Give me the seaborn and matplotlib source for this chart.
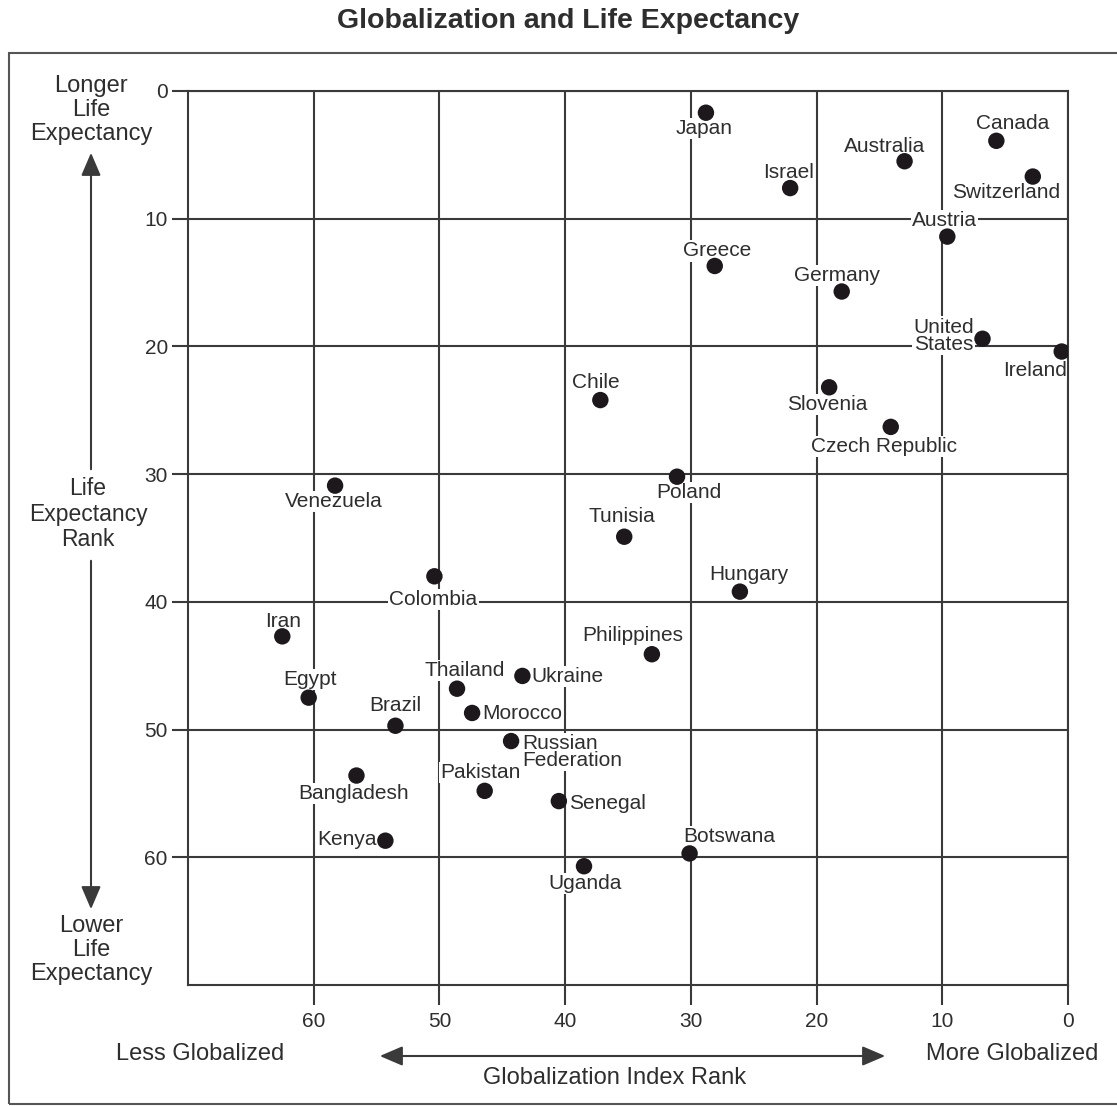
import matplotlib
matplotlib.use('Agg')
import matplotlib.pyplot as plt
import seaborn as sns
import pandas as pd
from matplotlib.patches import Rectangle, FancyArrowPatch

# data (ranks)
countries = ['Japan', 'Canada', 'Australia', 'Switzerland', 'Israel', 'Austria',
             'Greece', 'Germany', 'United\nStates', 'Ireland', 'Chile', 'Slovenia',
             'Czech Republic', 'Poland', 'Venezuela', 'Tunisia', 'Colombia', 'Hungary',
             'Iran', 'Philippines', 'Ukraine', 'Thailand', 'Egypt', 'Morocco', 'Brazil',
             'Russian\nFederation', 'Bangladesh', 'Pakistan', 'Senegal', 'Kenya',
             'Botswana', 'Uganda']
glob_rank = [28.8, 5.7, 13.0, 2.8, 22.1, 9.6, 28.1, 18.0, 6.8, 0.5, 37.2, 19.0,
             14.1, 31.1, 58.3, 35.3, 50.4, 26.1, 62.5, 33.1, 43.4, 48.6, 60.4, 47.4,
             53.5, 44.3, 56.6, 46.4, 40.5, 54.3, 30.1, 38.5]
life_rank = [1.7, 3.9, 5.5, 6.7, 7.6, 11.4, 13.7, 15.7, 19.4, 20.4, 24.2, 23.2,
             26.3, 30.2, 30.9, 34.9, 38.0, 39.2, 42.7, 44.1, 45.8, 46.8, 47.5, 48.7,
             49.7, 50.9, 53.6, 54.8, 55.6, 58.7, 59.7, 60.7]
ticks = [0, 10, 20, 30, 40, 50, 60]

# label placement: offset in pixels (dx, dy down) and horizontal alignment
label_pos = {
    'Japan': (-2, 16, 'center'), 'Canada': (16, -17, 'center'),
    'Australia': (-20, -15, 'center'), 'Switzerland': (-27, 16, 'center'),
    'Israel': (-2, -16, 'center'), 'Austria': (-3, -16, 'center'),
    'Greece': (2, -15, 'center'), 'Germany': (-5, -16, 'center'),
    'United\nStates': (-39, -3, 'center'), 'Ireland': (-27, 19, 'center'),
    'Chile': (-5, -18, 'center'), 'Slovenia': (-2, 17, 'center'),
    'Czech Republic': (-7, 20, 'center'), 'Poland': (12, 16, 'center'),
    'Venezuela': (-1, 16, 'center'), 'Tunisia': (-2, -20, 'center'),
    'Colombia': (-1, 23, 'center'), 'Hungary': (9, -17, 'center'),
    'Iran': (1, -15, 'center'), 'Philippines': (-19, -19, 'center'),
    'Ukraine': (9, 1, 'left'), 'Thailand': (8, -18, 'center'),
    'Egypt': (1, -18, 'center'), 'Morocco': (10, 1, 'left'),
    'Brazil': (0, -20, 'center'), 'Russian\nFederation': (11, 11, 'left'),
    'Bangladesh': (-3, 18, 'center'), 'Pakistan': (-4, -18, 'center'),
    'Senegal': (10, 2, 'left'), 'Kenya': (-9, -1, 'right'),
    'Botswana': (40, -17, 'center'), 'Uganda': (1, 17, 'center'),
}

df = pd.DataFrame({'country': countries, 'glob': glob_rank, 'life': life_rank})

sns.set_theme(style='white')
plt.rcParams['font.family'] = ['Liberation Sans', 'DejaVu Sans']

W, H = 1117, 1106
line_c = '#3a3a3a'
text_c = '#2e2e2e'

def fxy(px, py):
    return px / W, 1 - py / H

fig = plt.figure(figsize=(W / 100, H / 100), dpi=100)
ax = fig.add_axes([188 / W, 1 - 985 / H, 880 / W, 894 / H])

sns.scatterplot(data=df, x='glob', y='life', s=140, color='#1c181c',
                edgecolor='none', ax=ax, zorder=5)

ax.set_xlim(70, 0)
ax.set_ylim(70, 0)
ax.set_xticks(ticks)
ax.set_yticks(ticks)
ax.set_xlabel('')
ax.set_ylabel('')
ax.grid(True, color=line_c, lw=1.5)
ax.set_axisbelow(True)
for sp in ax.spines.values():
    sp.set_color(line_c)
    sp.set_linewidth(1.5)
    sp.set_zorder(4)
ax.tick_params(axis='x', direction='out', length=14.5, width=1.5, color=line_c,
               pad=5, labelsize=15, labelcolor=text_c, bottom=True)
ax.tick_params(axis='y', direction='out', length=11.5, width=1.5, color=line_c,
               pad=3, labelsize=15, labelcolor=text_c, left=True)

for c, x, y in zip(countries, glob_rank, life_rank):
    dx, dy, ha = label_pos[c]
    ax.annotate(c, (x, y), xytext=(dx * 0.72, -dy * 0.72), textcoords='offset points',
                ha=ha, va='center', fontsize=15, color=text_c, linespacing=0.9,
                multialignment='left' if ha == 'left' else 'center',
                bbox=dict(boxstyle='square,pad=0.05', fc='white', ec='none'))

# title
fig.text(*fxy(568, 21), 'Globalization and Life Expectancy', ha='center', va='center',
         fontsize=20.5, fontweight='bold', color=text_c)

# outer frame
fig.patches.append(Rectangle(fxy(9, 1104), 1.2, (1104 - 53) / H, transform=fig.transFigure,
                             fill=False, ec='#555555', lw=1.5))

# vertical annotation: two arrows pointing away from the middle text
arr = dict(arrowstyle='-|>,head_length=0.7,head_width=0.3', mutation_scale=20,
           color=line_c, lw=1.5, transform=fig.transFigure)
fig.patches.append(FancyArrowPatch(fxy(91, 472), fxy(91, 150), **arr))
fig.patches.append(FancyArrowPatch(fxy(91, 558), fxy(91, 912), **arr))
fig.text(*fxy(91, 110), 'Longer\nLife\nExpectancy', ha='center', va='center',
         fontsize=17, color=text_c, linespacing=1.1)
fig.text(*fxy(88, 514), 'Life\nExpectancy\nRank', ha='center', va='center',
         fontsize=16.5, color=text_c, linespacing=1.12)
fig.text(*fxy(91, 950), 'Lower\nLife\nExpectancy', ha='center', va='center',
         fontsize=17, color=text_c, linespacing=1.1)

# horizontal annotation
arr2 = dict(arr, arrowstyle='<|-|>,head_length=0.7,head_width=0.3')
fig.patches.append(FancyArrowPatch(fxy(377, 1056), fxy(888, 1056), **arr2))
fig.text(*fxy(200, 1054), 'Less Globalized', ha='center', va='center',
         fontsize=17, color=text_c)
fig.text(*fxy(1012, 1054), 'More Globalized', ha='center', va='center',
         fontsize=17, color=text_c)
fig.text(*fxy(615, 1078), 'Globalization Index Rank', ha='center', va='center',
         fontsize=17, color=text_c)

fig.savefig('out.png', dpi=100)
